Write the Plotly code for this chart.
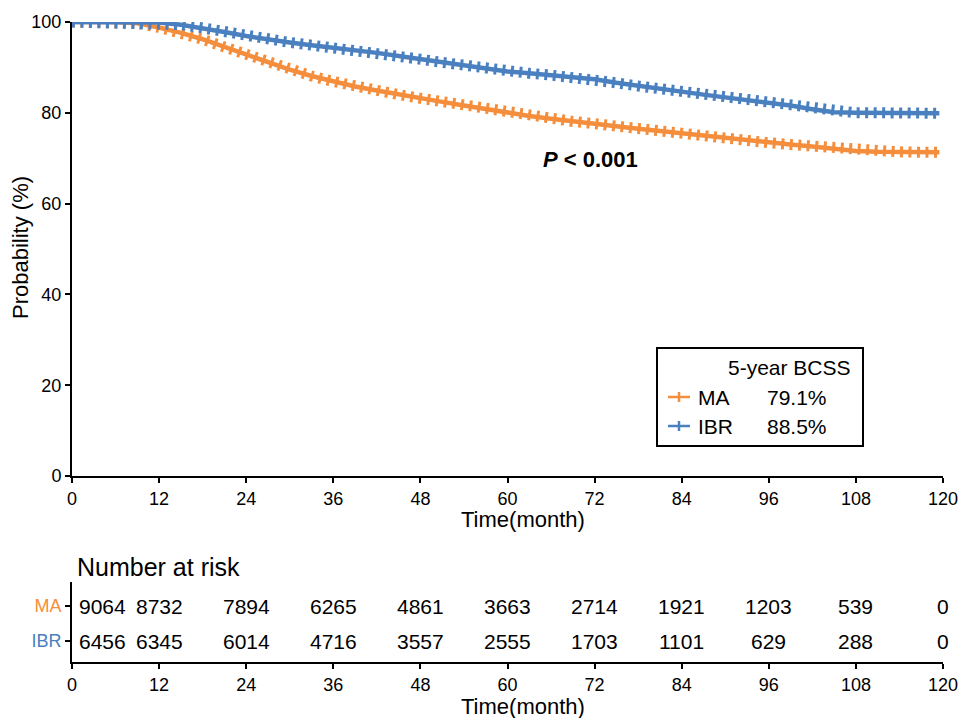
import plotly.graph_objects as go

# ---------------- data ----------------
months = [0, 3, 6, 9, 12, 15, 18, 21, 24, 27, 30, 33, 36, 39, 42, 45, 48, 51, 54, 57, 60,
          63, 66, 69, 72, 75, 78, 81, 84, 87, 90, 93, 96, 99, 102, 105, 108, 111, 114, 117, 119.5]
ma_surv = [100, 100, 100, 99.7, 98.8, 97.6, 96.2, 94.5, 92.8, 91.0, 89.5, 88.1, 86.9, 85.8, 84.9,
           84.0, 83.2, 82.4, 81.6, 80.8, 80.0, 79.3, 78.7, 78.1, 77.6, 77.0, 76.5, 76.0, 75.5,
           74.9, 74.3, 73.8, 73.4, 73.0, 72.6, 72.0, 71.6, 71.4, 71.4, 71.3, 71.3]
ibr_surv = [100, 100, 100, 100, 99.9, 99.4, 98.7, 97.8, 96.9, 96.1, 95.5, 94.9, 94.4, 93.8, 93.2,
            92.5, 91.8, 91.1, 90.4, 89.7, 89.1, 88.7, 88.3, 87.9, 87.4, 86.6, 85.9, 85.3, 84.7,
            84.0, 83.4, 82.8, 82.3, 81.6, 80.8, 80.1, 80.0, 80.0, 79.9, 79.9, 79.9]

groups = ["MA", "IBR"]
bcss_5yr = ["79.1%", "88.5%"]
risk_times = [0, 12, 24, 36, 48, 60, 72, 84, 96, 108, 120]
ma_risk = [9064, 8732, 7894, 6265, 4861, 3663, 2714, 1921, 1203, 539, 0]
ibr_risk = [6456, 6345, 6014, 4716, 3557, 2555, 1703, 1101, 629, 288, 0]
x_ticks = [0, 12, 24, 36, 48, 60, 72, 84, 96, 108, 120]
y_ticks = [0, 20, 40, 60, 80, 100]
p_text = "<b><i>P</i> &lt; 0.001</b>"

# ---------------- style ----------------
W, H = 963, 718
ORANGE = "#F58E3C"
BLUE = "#4A80BF"
FONT = "Liberation Sans, Arial, sans-serif"


def px(x):
    return x / W


def py(y):
    return 1 - y / H


fig = go.Figure()

for name, surv, col in [("MA", ma_surv, ORANGE), ("IBR", ibr_surv, BLUE)]:
    # censor tick marks drawn as a wide dashed stroke along the curve
    fig.add_trace(go.Scatter(x=months, y=surv, mode="lines", showlegend=False,
                             line=dict(color=col, width=11, dash="3px,5.5px"),
                             hoverinfo="skip", xaxis="x", yaxis="y"))
    fig.add_trace(go.Scatter(x=months, y=surv, mode="lines", name=name, showlegend=False,
                             line=dict(color=col, width=4.5), xaxis="x", yaxis="y"))

axis_common = dict(showline=True, linecolor="black", linewidth=2, ticks="outside",
                   ticklen=5, tickwidth=2, tickcolor="black", showgrid=False, zeroline=False,
                   automargin=False,
                   tickfont=dict(family=FONT, size=18, color="black"))

fig.update_layout(
    width=W, height=H,
    margin=dict(l=0, r=0, t=0, b=0, pad=0, autoexpand=False),
    paper_bgcolor="white", plot_bgcolor="white",
    font=dict(family=FONT, color="black"),
    showlegend=False,
    xaxis=dict(domain=[px(72), px(943)], range=[0, 120], tickvals=x_ticks,
               anchor="y", **axis_common),
    yaxis=dict(domain=[py(476), py(22)], range=[0, 100], tickvals=y_ticks,
               anchor="x", **axis_common),
    xaxis2=dict(domain=[px(72), px(943)], range=[0, 120], tickvals=x_ticks,
                anchor="y2", **axis_common),
    yaxis2=dict(domain=[py(662), py(582)], range=[0, 1], tickvals=[0.7, 0.2625],
                ticktext=[f"<span style='color:{ORANGE}'>MA</span>",
                          f"<span style='color:{BLUE}'>IBR</span>"],
                anchor="x2", **axis_common),
)

ann = []
# risk numbers
for row_y, vals in [(0.7, ma_risk), (0.2625, ibr_risk)]:
    for t, v in zip(risk_times, vals):
        ann.append(dict(x=t, y=row_y, xref="x2", yref="y2", text=str(v), showarrow=False,
                        xanchor="left" if t == 0 else "center", xshift=5 if t == 0 else 0,
                        yanchor="middle", font=dict(family=FONT, size=21, color="black")))
# titles
ann.append(dict(x=px(75), y=py(567), xref="paper", yref="paper", text="Number at risk",
                showarrow=False, xanchor="left", yanchor="middle",
                font=dict(family=FONT, size=25, color="black")))
ann.append(dict(x=px(523), y=py(519), xref="paper", yref="paper", text="Time(month)",
                showarrow=False, xanchor="center", yanchor="middle",
                font=dict(family=FONT, size=22, color="black")))
ann.append(dict(x=px(523), y=py(706), xref="paper", yref="paper", text="Time(month)",
                showarrow=False, xanchor="center", yanchor="middle",
                font=dict(family=FONT, size=22, color="black")))
ann.append(dict(x=px(20), y=py(248), xref="paper", yref="paper", text="Probability (%)",
                showarrow=False, textangle=-90, xanchor="center", yanchor="middle",
                font=dict(family=FONT, size=22, color="black")))
ann.append(dict(x=px(590), y=py(160), xref="paper", yref="paper", text=p_text,
                showarrow=False, xanchor="center", yanchor="middle",
                font=dict(family=FONT, size=22, color="black")))

# manual legend
shapes = [dict(type="rect", xref="paper", yref="paper", x0=px(657), x1=px(863),
               y0=py(446), y1=py(348), line=dict(color="black", width=2),
               fillcolor="white", layer="above")]
ann.append(dict(x=px(853), y=py(367), xref="paper", yref="paper", text="5-year BCSS",
                showarrow=False, xanchor="right", yanchor="middle",
                font=dict(family=FONT, size=21, color="black")))
for (g, val, col, ry) in [(groups[0], bcss_5yr[0], ORANGE, 397), (groups[1], bcss_5yr[1], BLUE, 426)]:
    shapes.append(dict(type="line", xref="paper", yref="paper", x0=px(668), x1=px(690),
                       y0=py(ry), y1=py(ry), line=dict(color=col, width=2.5), layer="above"))
    shapes.append(dict(type="line", xref="paper", yref="paper", x0=px(679), x1=px(679),
                       y0=py(ry - 5), y1=py(ry + 5), line=dict(color=col, width=2.5), layer="above"))
    ann.append(dict(x=px(696), y=py(ry), xref="paper", yref="paper", text=g, showarrow=False,
                    xanchor="left", yanchor="middle", font=dict(family=FONT, size=21, color="black")))
    ann.append(dict(x=px(765), y=py(ry), xref="paper", yref="paper", text=val, showarrow=False,
                    xanchor="left", yanchor="middle", font=dict(family=FONT, size=21, color="black")))

fig.update_layout(annotations=ann, shapes=shapes)

fig.write_html("out.html", config={"displayModeBar": False},
               post_script="document.body.style.margin='0';")
